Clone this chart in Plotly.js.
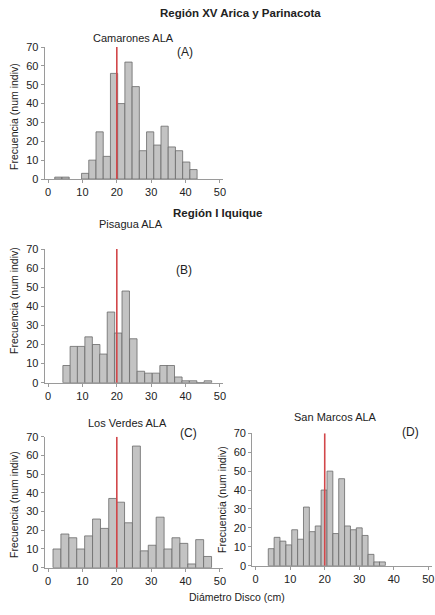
<!DOCTYPE html>
<html>
<head>
<meta charset="utf-8">
<script src="https://cdn.plot.ly/plotly-3.0.1.min.js"></script>
<style>html,body{margin:0;padding:0;background:#fff;}#chart{width:435px;height:615px;}</style>
</head>
<body>
<div id="chart"></div>
<script>
// Bin centres (cm) and counts for each site
const binsA = [3.0, 5.1, 10.8, 12.9, 15.0, 17.1, 19.2, 21.3, 23.4, 25.5, 27.6, 29.7, 31.8, 33.9, 36.0, 38.1, 40.2, 42.3];
const countsA = [1, 1, 3, 10, 25, 12, 56, 40, 62, 49, 15, 25, 18, 28, 17, 15, 9, 5];

const binsB = [5.4, 7.5, 9.6, 11.8, 14.0, 16.1, 18.3, 20.4, 22.6, 24.8, 27.0, 29.2, 31.4, 33.6, 35.7, 37.9, 40.0, 42.2, 44.3, 46.5];
const countsB = [9, 19, 19, 24, 20, 15, 37, 26, 48, 23, 6, 5, 5, 9, 9, 3, 1, 1, 0, 1];

const binsC = [2.6, 4.9, 7.2, 9.5, 11.8, 14.1, 16.4, 18.8, 21.1, 23.4, 25.7, 28.0, 30.3, 32.6, 34.9, 37.2, 39.5, 41.8, 44.1, 46.4];
const countsC = [10, 18, 16, 10, 17, 26, 21, 37, 35, 24, 65, 9, 12, 27, 10, 16, 13, 2, 15, 6];

const binsD = [4.5, 6.2, 7.9, 9.6, 11.3, 13.0, 14.7, 16.4, 18.1, 19.8, 21.5, 23.2, 24.9, 26.6, 28.3, 30.0, 31.7, 33.4, 35.1, 36.7];
const countsD = [9, 15, 13, 11, 19, 14, 31, 18, 21, 40, 50, 17, 46, 21, 19, 20, 16, 6, 2, 2];

const siteNames = ["Camarones ALA", "Pisagua ALA", "Los Verdes ALA", "San Marcos ALA"];
const panelLabels = ["(A)", "(B)", "(C)", "(D)"];
const alaSize = [20, 20, 20, 20];   // reference size line (cm)
const lineTop = [70, 70, 70, 70];
const regionTitles = ["Región XV Arica y Parinacota", "Región I Iquique"];
const yTitle = "Frecuencia (num indiv)";
const xTitle = "Diámetro Disco (cm)";
const xTicks = [0, 10, 20, 30, 40, 50];
const yTicks = [0, 10, 20, 30, 40, 50, 60, 70];

const W = 435, H = 615;
const px = v => v / W;
const py = v => 1 - v / H;

const bins = [binsA, binsB, binsC, binsD];
const counts = [countsA, countsB, countsC, countsD];
const widths = [2.1, 2.17, 2.307, 1.694];
const axSuffix = ["", "2", "3", "4"];

const traces = [];
for (let i = 0; i < 4; i++) {
  traces.push({
    type: "bar", x: bins[i], y: counts[i],
    width: bins[i].map(() => widths[i]),
    xaxis: "x" + axSuffix[i], yaxis: "y" + axSuffix[i],
    marker: {color: "#c3c3c3", line: {color: "#6a6a6a", width: 0.8}},
    showlegend: false, hoverinfo: "x+y"
  });
  traces.push({
    type: "scatter", mode: "lines",
    x: [alaSize[i], alaSize[i]], y: [0, lineTop[i]],
    xaxis: "x" + axSuffix[i], yaxis: "y" + axSuffix[i],
    line: {color: "#d2474a", width: 1.6},
    showlegend: false, hoverinfo: "skip"
  });
}

const font = {family: "Liberation Sans, Arial, sans-serif", color: "#222", size: 11};

function xax(d) {
  return {domain: d, range: [-1, 51], tickvals: xTicks, showline: true, linecolor: "#9a9a9a", linewidth: 1,
    ticks: "outside", ticklen: 3, tickcolor: "#9a9a9a", showgrid: false, zeroline: false,
    tickfont: {size: 11, color: "#222"}, fixedrange: true};
}
function yax(d, anchor) {
  return {domain: d, range: [0, 70], tickvals: yTicks, showline: true, linecolor: "#9a9a9a", linewidth: 1,
    ticks: "outside", ticklen: 3, tickcolor: "#9a9a9a", showgrid: false, zeroline: false,
    anchor: anchor, tickfont: {size: 11, color: "#222"}, fixedrange: true};
}

const xdomL = [px(44.6), px(223.4)];
const xdomR = [px(252.2), px(431.8)];

function ann(text, x, y, size, extra) {
  return Object.assign({text: text, x: px(x), y: py(y), xref: "paper", yref: "paper",
    xanchor: "center", yanchor: "middle", showarrow: false, font: {size: size, color: "#222"}}, extra || {});
}

const layout = {
  width: W, height: H,
  margin: {l: 0, r: 0, t: 0, b: 0},
  paper_bgcolor: "#fff", plot_bgcolor: "#fff",
  font: font, bargap: 0,
  xaxis: Object.assign(xax(xdomL), {anchor: "y"}),
  yaxis: yax([py(179), py(47)], "x"),
  xaxis2: Object.assign(xax(xdomL), {anchor: "y2"}),
  yaxis2: yax([py(382.7), py(249)], "x2"),
  xaxis3: Object.assign(xax(xdomL), {anchor: "y3"}),
  yaxis3: yax([py(567.7), py(436.7)], "x3"),
  xaxis4: Object.assign(xax(xdomR), {anchor: "y4"}),
  yaxis4: yax([py(565.7), py(433.3)], "x4"),
  annotations: [
    ann("<b>" + regionTitles[0] + "</b>", 240, 13, 11.5),
    ann("<b>" + regionTitles[1] + "</b>", 218, 213, 11.5),

    ann(siteNames[0], 133.5, 38, 11),
    ann(siteNames[1], 131, 224, 11),
    ann(siteNames[2], 127, 423, 11),
    ann(siteNames[3], 335, 417, 11),

    ann(panelLabels[0], 185, 52, 12),
    ann(panelLabels[1], 184, 270, 12),
    ann(panelLabels[2], 188, 433, 12),
    ann(panelLabels[3], 410, 432, 12),

    ann(yTitle, 14, 117, 10.5, {textangle: -90}),
    ann(yTitle, 14, 301, 10.5, {textangle: -90}),
    ann(yTitle, 14, 505, 10.5, {textangle: -90}),
    ann(yTitle, 222, 500, 10.5, {textangle: -90}),

    ann(xTitle, 237, 597, 10.5)
  ]
};

Plotly.newPlot("chart", traces, layout, {displayModeBar: false, staticPlot: true});
</script>
</body>
</html>
